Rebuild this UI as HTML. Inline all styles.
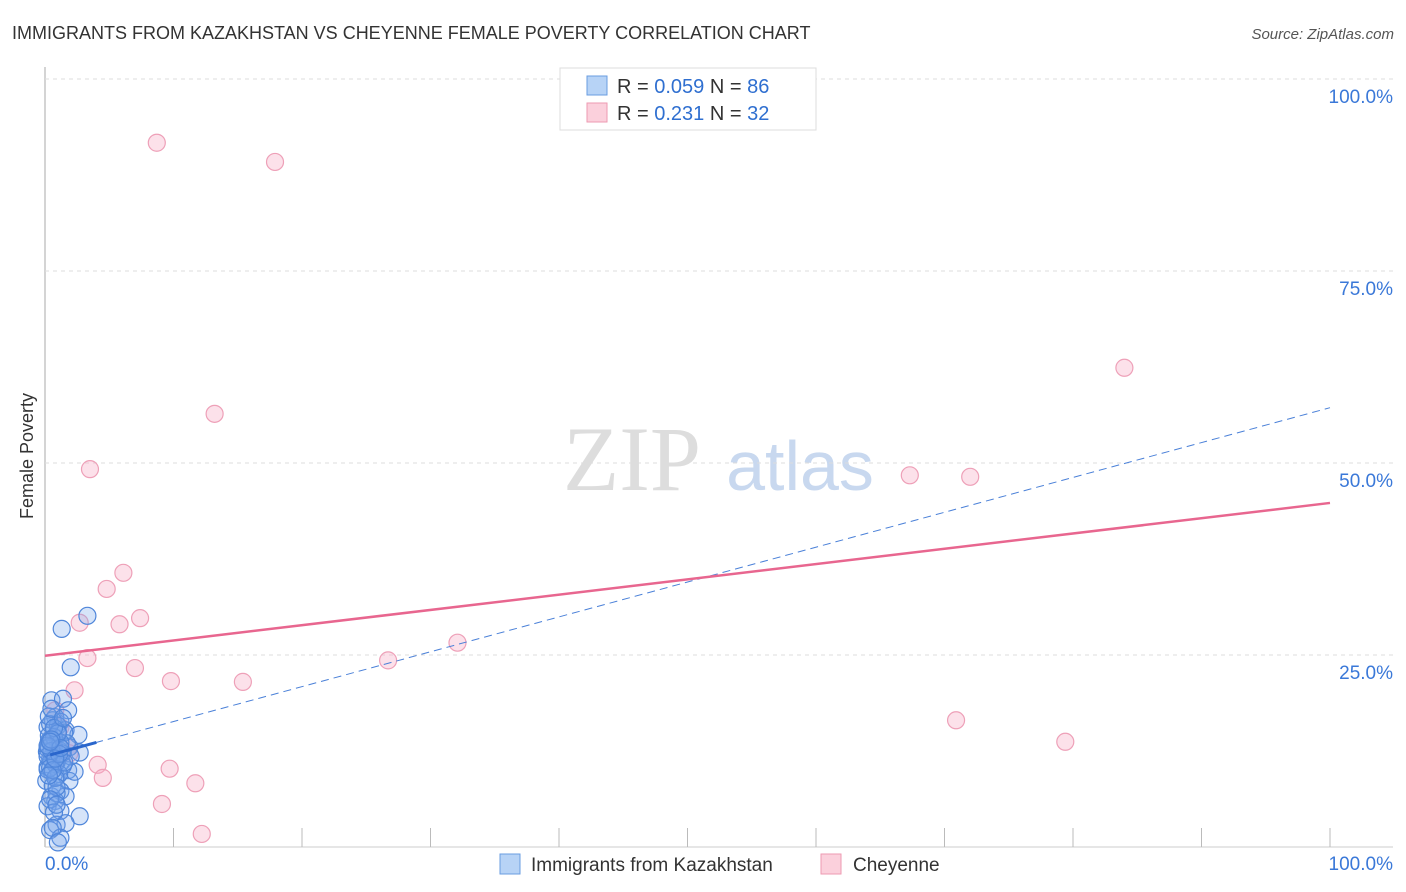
<!DOCTYPE html>
<html><head><meta charset="utf-8"><style>
body{margin:0;background:#fff;font-family:"Liberation Sans",sans-serif;}
#wrap{position:relative;width:1406px;height:892px;overflow:hidden}
</style></head><body>
<div id="wrap">
<svg id="svg" width="1406" height="892">
<text x="12" y="39" font-size="18" fill="#333">IMMIGRANTS FROM KAZAKHSTAN VS CHEYENNE FEMALE POVERTY CORRELATION CHART</text>
<text x="1394" y="39" font-size="15" fill="#555" font-style="italic" text-anchor="end">Source: ZipAtlas.com</text>
<text x="33" y="456" font-size="18" fill="#333" text-anchor="middle" transform="rotate(-90 33 456)">Female Poverty</text>
<text x="632" y="490" font-size="92" fill="#ddd" font-family="Liberation Serif,serif" text-anchor="middle">ZIP</text>
<text x="800" y="490" font-size="70" fill="#c8d8ef" text-anchor="middle">atlas</text>
<g id="grid"></g><g id="marks"></g>
<g>
<rect x="560" y="68" width="256" height="62" fill="#fff" stroke="#ddd"/>
<rect x="587" y="76" width="20" height="19" fill="#b7d3f6" stroke="#6a9de0"/>
<rect x="587" y="103" width="20" height="19" fill="#fbd0dc" stroke="#ee9ab2"/>
<text x="617" y="93" font-size="20" fill="#333">R = <tspan fill="#2f6fd0">0.059</tspan>   N = <tspan fill="#2f6fd0">86</tspan></text>
<text x="617" y="120" font-size="20" fill="#333">R =  <tspan fill="#2f6fd0">0.231</tspan>   N = <tspan fill="#2f6fd0">32</tspan></text>
</g>
<g>
<rect x="500" y="854" width="20" height="20" fill="#b7d3f6" stroke="#6a9de0"/>
<text x="531" y="871" font-size="19" fill="#333">Immigrants from Kazakhstan</text>
<rect x="821" y="854" width="20" height="20" fill="#fbd0dc" stroke="#ee9ab2"/>
<text x="853" y="871" font-size="19" fill="#333">Cheyenne</text>
</g>
</svg></div>
<script>
const yTicks=[25,50,75,100];
const yTickLabels=["25.0%","50.0%","75.0%","100.0%"];
const xTickLabels=["0.0%","100.0%"];
const blueX=[1.3,3.3,2.0,0.5,1.4,1.8,0.8,1.2,0.2,1.6,2.6,0.4,1.0,1.9,0.15,0.8,1.3,0.2,1.8,0.5,0.9,0.1,1.9,1.2,0.5,1.6,0.8,0.2,1.2,2.7,0.9,1.6,0.4,1.2,0.2,2.3,2.7,0.6,1.0,1.5,0.3,0.7,1.1,2.0,0.4,0.9,1.4,0.3,0.6,1.7,1.0,0.2,0.5,0.8,1.3,0.4,0.7,1.1,0.3,0.6,1.5,0.9,0.2,0.5,1.2,0.4,0.8,1.0,0.3,0.7,0.5,1.1,0.2,0.6,0.9,1.4,0.4,0.8,0.3,0.7,1.2,0.5,0.9,0.6,0.4,1.0];
const blueY=[28.4,30.1,23.4,19.1,19.3,17.8,16.9,16.3,15.6,15.2,14.6,14.0,13.4,13.0,12.4,11.7,11.1,10.4,10.0,9.8,9.1,8.6,8.6,7.3,6.6,6.6,6.0,5.3,4.7,4.0,2.9,3.1,2.2,1.2,10.1,9.8,12.3,16.5,15.8,14.9,13.8,13.1,12.6,11.8,11.5,11.0,10.6,14.5,12.0,13.5,15.0,12.8,11.3,10.8,12.2,16.0,14.3,9.5,13.0,8.0,11.0,7.0,11.8,12.5,13.6,10.3,9.0,14.8,17.0,15.5,18.0,12.1,13.2,10.0,7.8,16.8,6.2,11.5,9.3,4.5,12.9,14.0,5.5,2.5,13.7,0.6];
const pinkX=[8.7,17.9,13.2,3.5,84.0,67.3,72.0,6.1,4.8,7.4,5.8,2.7,3.3,32.1,26.7,7.0,9.8,15.4,2.3,70.9,79.4,4.1,4.5,9.7,11.7,9.1,12.2,0.8,1.2,1.8,0.9,1.9];
const pinkY=[91.7,89.2,56.4,49.2,62.4,48.4,48.2,35.7,33.6,29.8,29.0,29.2,24.6,26.6,24.3,23.3,21.6,21.5,20.4,16.5,13.7,10.7,9.0,10.2,8.3,5.6,1.7,17.8,15.6,12.9,11.3,12.2];
const pinkTrend=[24.9,44.8];   // y at x=0, x=100
const blueTrend=[11.8,57.2];
const sx=v=>45+v*12.85, sy=v=>847-v*7.68;
const NS="http://www.w3.org/2000/svg";
const grid=document.getElementById('grid'), marks=document.getElementById('marks');
function mk(tag,attrs,parent){const e=document.createElementNS(NS,tag);for(const k in attrs)e.setAttribute(k,attrs[k]);parent.appendChild(e);return e;}
let ax=mk('line',{x1:45,y1:67,x2:45,y2:847,stroke:'#aaa'},grid);


let bx=mk('line',{x1:45,y1:847,x2:1393,y2:847,stroke:'#ccc'},grid);


yTicks.forEach((t,i)=>{
 let g=mk('line',{x1:45,x2:1393,y1:sy(t),y2:sy(t),stroke:'#ddd','stroke-dasharray':'4,4'},grid);
 
 
 let l=mk('text',{x:1393,y:sy(t)+24,'font-size':19,fill:'#3a78d8','text-anchor':'end'},grid);
 l.textContent=yTickLabels[i];
 
 
});
for(let i=1;i<=10;i++){
 let t=mk('line',{x1:sx(i*10),x2:sx(i*10),y1:828,y2:847,stroke:'#bbb'},grid);
 
 
}
[[0,'start',45],[100,'end',1393]].forEach((p,i)=>{
 let l=mk('text',{x:p[2],y:870,'font-size':19,fill:'#3a78d8','text-anchor':p[1]},grid);
 l.textContent=xTickLabels[i];
 
 
});
pinkX.forEach((x,i)=>{
 let c=mk('circle',{cx:sx(x),cy:sy(pinkY[i]),r:8.5,fill:'rgba(246,170,195,0.35)',stroke:'#eea0b8','stroke-width':1.2},marks);
 
 
});
blueX.forEach((x,i)=>{
 let c=mk('circle',{cx:sx(x),cy:sy(blueY[i]),r:8.5,fill:'rgba(120,165,235,0.3)',stroke:'#4f86da','stroke-width':1.2},marks);
 
 
});
let bl=mk('line',{x1:sx(0),y1:sy(blueTrend[0]),x2:sx(100),y2:sy(blueTrend[1]),stroke:'#4a80d8','stroke-width':1,'stroke-dasharray':'8,5'},marks);


const bs=(blueTrend[1]-blueTrend[0])/100;
let bs2=mk('line',{x1:sx(0.4),y1:sy(blueTrend[0]+bs*0.4),x2:sx(4),y2:sy(blueTrend[0]+bs*4),stroke:'#2a66cc','stroke-width':3},marks);


let pl=mk('line',{x1:sx(0),y1:sy(pinkTrend[0]),x2:sx(100),y2:sy(pinkTrend[1]),stroke:'#e8668f','stroke-width':2.5},marks);


</script>
</body></html>
